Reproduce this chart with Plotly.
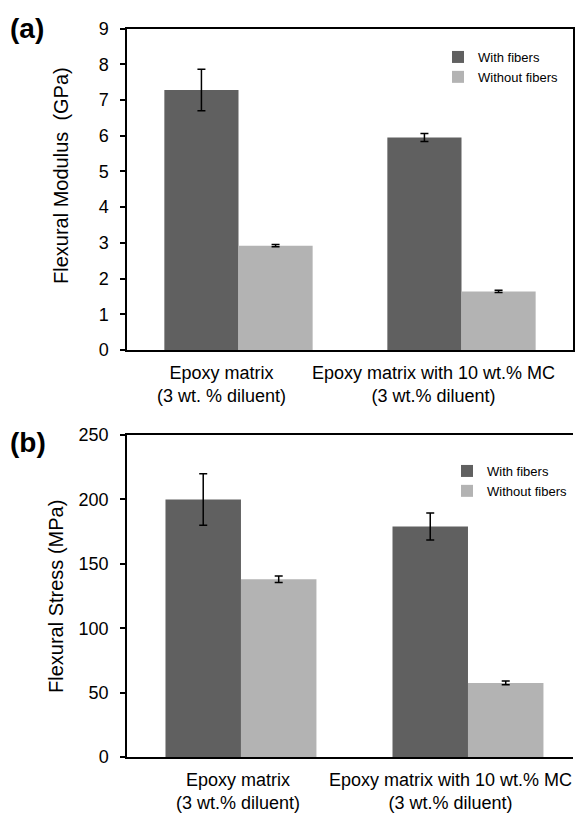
import plotly.graph_objects as go

categories = ["Epoxy matrix", "Epoxy matrix with 10 wt.% MC"]
label_a = ["Epoxy matrix<br>(3 wt. % diluent)", "Epoxy matrix with 10 wt.% MC<br>(3 wt.% diluent)"]
label_b = ["Epoxy matrix<br>(3 wt.% diluent)", "Epoxy matrix with 10 wt.% MC<br>(3 wt.% diluent)"]
series_names = ["With fibers", "Without fibers"]

modulus_with = [7.28, 5.95]
modulus_with_err = [0.58, 0.11]
modulus_without = [2.92, 1.64]
modulus_without_err = [0.03, 0.03]

stress_with = [200, 179]
stress_with_err = [20, 10.5]
stress_without = [138, 57.5]
stress_without_err = [2.5, 1.5]

y_ticks_a = [0, 1, 2, 3, 4, 5, 6, 7, 8, 9]
y_ticks_b = [0, 50, 100, 150, 200, 250]

DARK = "#606060"
LIGHT = "#b3b3b3"
FONT = "Liberation Sans, Arial, sans-serif"

W, H = 575, 815
ML, MR = 127, 2
PLOT_W = W - ML - MR

fig = go.Figure()

def add_bar(y, err, name, color, xaxis, yaxis, legend):
    fig.add_trace(go.Bar(
        x=categories, y=y, name=name,
        marker=dict(color=color, line=dict(width=0)),
        error_y=dict(type="data", array=err, visible=True, color="black", thickness=1.5, width=4),
        xaxis=xaxis, yaxis=yaxis, legend=legend,
    ))

add_bar(modulus_with, modulus_with_err, series_names[0], DARK, "x", "y", "legend")
add_bar(modulus_without, modulus_without_err, series_names[1], LIGHT, "x", "y", "legend")
add_bar(stress_with, stress_with_err, series_names[0], DARK, "x2", "y2", "legend2")
add_bar(stress_without, stress_without_err, series_names[1], LIGHT, "x2", "y2", "legend2")

def py(p):
    return 1 - p / H

def px(p):
    return (p - ML) / PLOT_W

axis_common = dict(showline=True, linecolor="black", linewidth=1.5, showgrid=False, zeroline=False)
yaxis_common = dict(ticks="outside", ticklen=5, tickwidth=1.5, tickcolor="black",
                    tickfont=dict(family=FONT, size=18), ticklabelstandoff=8)

ann_base = dict(showarrow=False, xanchor="center", yanchor="middle")

# category labels drawn as annotations on the category axes (shifted as in the source)
cat_annotations = []
for lbl, cat, shift in zip(label_a, categories, [-17, -28]):
    cat_annotations.append(dict(**ann_base, text=lbl, x=cat, xref="x", y=py(384.5), yref="paper",
                                xshift=shift, font=dict(family=FONT, size=18)))
for lbl, cat, shift in zip(label_b, categories, [-3, -17]):
    cat_annotations.append(dict(**ann_base, text=lbl, x=cat, xref="x2", y=py(791.5), yref="paper",
                                xshift=shift, font=dict(family=FONT, size=18)))

fig.update_layout(
    width=W, height=H,
    margin=dict(l=ML, r=MR, t=0, b=0, autoexpand=False),
    paper_bgcolor="white", plot_bgcolor="white",
    barmode="group", bargap=0.335, bargroupgap=0,
    font=dict(family=FONT, color="black"),
    xaxis=dict(**axis_common, domain=[0, 1], anchor="y", mirror=True, ticks="",
               range=[-0.5, 1.5], showticklabels=False),
    yaxis=dict(**axis_common, **yaxis_common, domain=[py(350), py(28.5)], anchor="x", mirror=True,
               range=[0, 9], tickvals=y_ticks_a),
    xaxis2=dict(**axis_common, domain=[0, 1], anchor="y2", mirror=True, ticks="",
                range=[-0.502, 1.4626], showticklabels=False),
    yaxis2=dict(**axis_common, **yaxis_common, domain=[py(757), py(435)], anchor="x2", mirror=False,
                range=[0, 250], tickvals=y_ticks_b),
    legend=dict(x=px(438), y=py(42), xanchor="left", yanchor="top",
                bgcolor="rgba(0,0,0,0)", font=dict(family=FONT, size=13)),
    legend2=dict(x=px(447), y=py(456), xanchor="left", yanchor="top",
                 bgcolor="rgba(0,0,0,0)", font=dict(family=FONT, size=13)),
    annotations=cat_annotations + [
        dict(**ann_base, text="<b>(a)</b>", x=px(27), y=py(28), xref="paper", yref="paper",
             font=dict(family=FONT, size=28)),
        dict(**ann_base, text="<b>(b)</b>", x=px(28), y=py(442), xref="paper", yref="paper",
             font=dict(family=FONT, size=28)),
        dict(**ann_base, text="Flexural Modulus\u00a0\u00a0(GPa)", x=px(61), y=py(176), xref="paper",
             yref="paper", textangle=-90, font=dict(family=FONT, size=20)),
        dict(**ann_base, text="Flexural Stress (MPa)", x=px(56), y=py(597), xref="paper", yref="paper",
             textangle=-90, font=dict(family=FONT, size=20)),
    ],
)

fig.write_html("out.html", config={"displayModeBar": False},
               post_script="document.body.style.margin='0';document.body.style.overflow='hidden';")
